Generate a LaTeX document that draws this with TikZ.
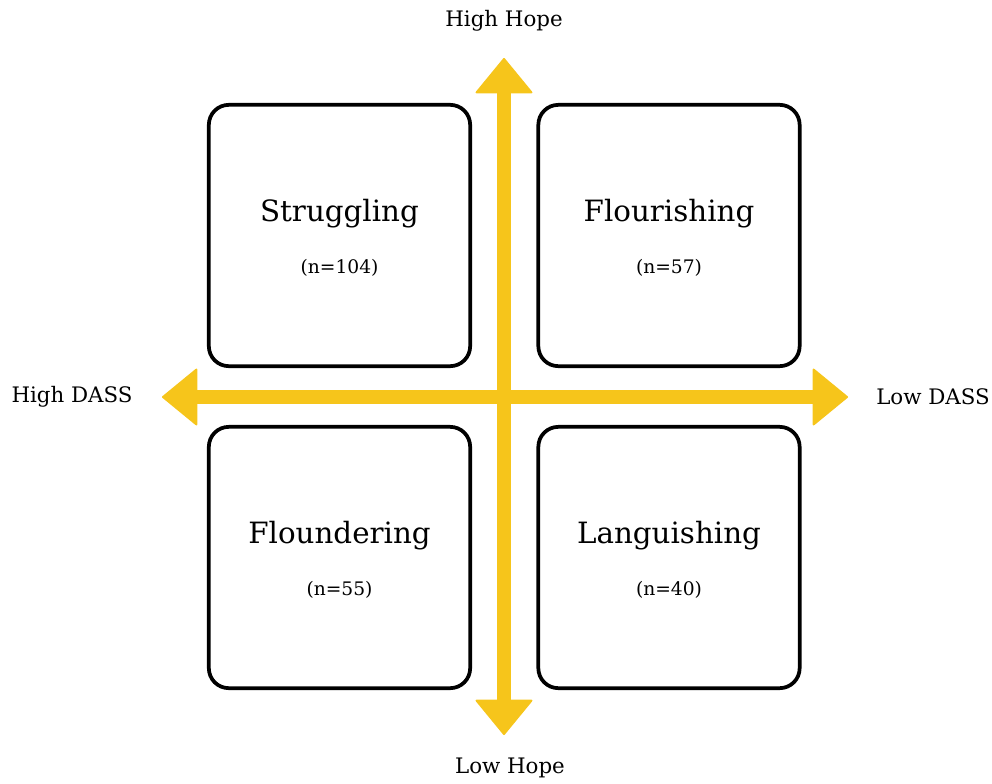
\documentclass[tikz,border=0pt]{standalone}
\usepackage{fontspec}
\setmainfont{DejaVu Serif}
\usetikzlibrary{arrows.meta}
\definecolor{axisyellow}{RGB}{246,197,27}

\begin{document}
\begin{tikzpicture}[x=0.75pt,y=-0.75pt,
  quad/.style={draw,line width=2.8pt,rounded corners=15pt,
    minimum width=196pt,minimum height=196pt},
  title/.style={font=\fontsize{22}{26}\selectfont},
  count/.style={font=\fontsize{14}{17}\selectfont},
  axislabel/.style={font=\fontsize{16}{19}\selectfont},
  axis/.style={axisyellow,line width=10.5pt,
    -{Triangle[width=44pt,length=27pt,line width=1.5pt,round]}}]
  \useasboundingbox (0,0) rectangle (992,783);
  % quadrant boxes
  \node[quad] (strug) at (339.5,235.5) {};
  \node[quad] (flour) at (669,235.5) {};
  \node[quad] (flound) at (339.5,557.5) {};
  \node[quad] (lang) at (669,557.5) {};
  \node[title] (strugT) at ([yshift=16.5pt]strug.center) {Struggling};
  \node[count] (strugN) at ([yshift=-24pt]strug.center) {(n=104)};
  \node[title] (flourT) at ([yshift=16.5pt]flour.center) {Flourishing};
  \node[count] (flourN) at ([yshift=-24pt]flour.center) {(n=57)};
  \node[title] (floundT) at ([yshift=16.5pt]flound.center) {Floundering};
  \node[count] (floundN) at ([yshift=-24pt]flound.center) {(n=55)};
  \node[title] (langT) at ([yshift=16.5pt]lang.center) {Languishing};
  \node[count] (langN) at ([yshift=-24pt]lang.center) {(n=40)};
  % axes
  \coordinate (top) at (504,58);
  \coordinate (bottom) at (504,735);
  \coordinate (left) at (162,397);
  \coordinate (right) at (848,397);
  \coordinate (mid) at (504,397);
  \draw[axis] (mid) -- (top);
  \draw[axis] (mid) -- (bottom);
  \draw[axis] (mid) -- (left);
  \draw[axis] (mid) -- (right);
  \node[axislabel] (hiHope) at (504,21) {High Hope};
  \node[axislabel] (loHope) at (510,768) {Low Hope};
  \node[axislabel] (hiDass) at (72,397) {High DASS};
  \node[axislabel] (loDass) at (933,397) {Low DASS};
\end{tikzpicture}
\end{document}
